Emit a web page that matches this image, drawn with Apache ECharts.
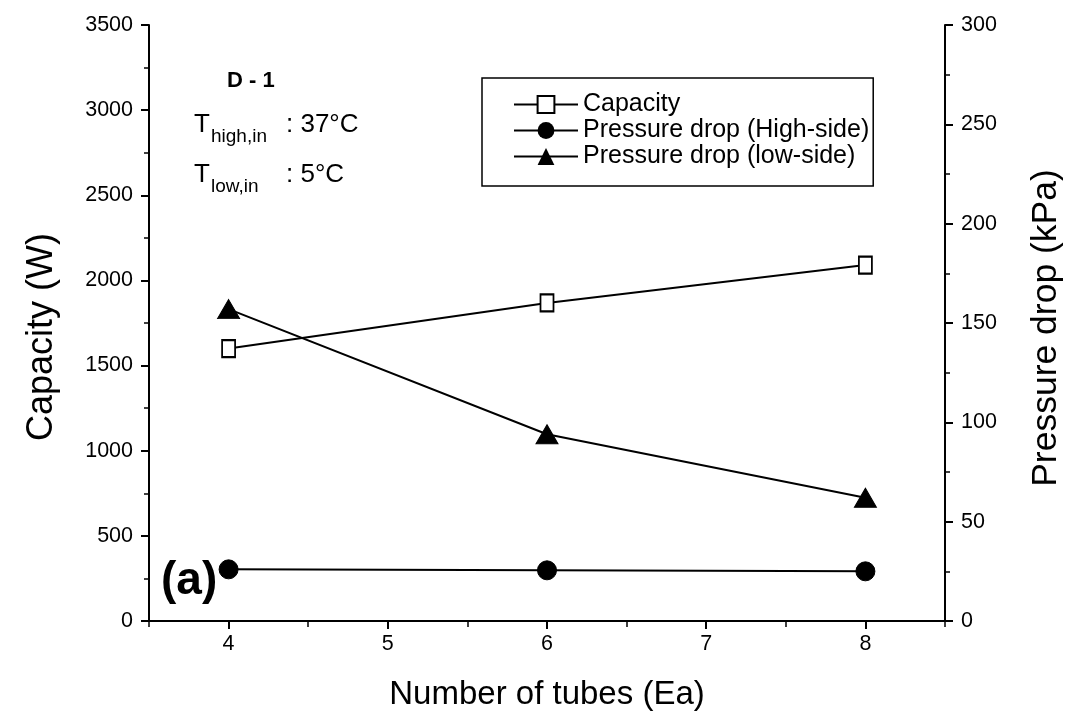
<!DOCTYPE html>
<html>
<head>
<meta charset="utf-8">
<script src="https://cdn.jsdelivr.net/npm/echarts@6/dist/echarts.min.js"></script>
<style>
  html, body { margin: 0; padding: 0; background: #fff; }
  #main { width: 1069px; height: 720px; }
</style>
</head>
<body>
<div id="main"></div>
<script>
// data
const tubes = [4, 6, 8];
const capacity = [1600, 1868, 2090];          // W
const dpHigh = [26, 25.5, 25];                 // kPa
const dpLow = [157, 94, 62];                   // kPa

const FONT = "'Liberation Sans', Arial, sans-serif";

let myChart = echarts.init(document.getElementById('main'));

function pairs(ys) {
    return tubes.map((x, i) => [x, ys[i]]);
}
// plain numbers, no thousands separator
function plain(v) {
    return String(v);
}

let option = {
    backgroundColor: '#fff',
    animation: false,
    textStyle: { fontFamily: FONT, color: '#000' },
    grid: { left: 149, right: 124, top: 25, bottom: 99, outerBoundsMode: 'none', containLabel: false },
    legend: {
        orient: 'vertical',
        left: 482,
        top: 78,
        padding: [14, 4, 17, 31],
        itemWidth: 64,
        itemHeight: 21,
        itemGap: 1,
        borderColor: '#000',
        borderWidth: 1.5,
        textStyle: { fontFamily: FONT, fontSize: 25, color: '#000' },
        data: ['Capacity', 'Pressure drop (High-side)', 'Pressure drop (low-side)']
    },
    xAxis: [
        {
            type: 'value',
            position: 'bottom',
            min: 3.5,
            max: 8.5,
            name: 'Number of tubes (Ea)',
            nameLocation: 'middle',
            nameGap: 57,
            nameTextStyle: { fontSize: 33, color: '#000', fontFamily: FONT },
            axisLine: { lineStyle: { color: '#000', width: 2 } },
            axisTick: { inside: false, length: 8, lineStyle: { color: '#000', width: 2 } },
            axisLabel: {
                fontSize: 21.5, color: '#000', margin: 12, fontFamily: FONT,
                showMinLabel: false, showMaxLabel: false, formatter: plain
            },
            splitLine: { show: false }
        },
        {
            // top frame, inward ticks
            type: 'value',
            position: 'top',
            min: 3.5,
            max: 8.5,
            interval: 0.5,
            axisLine: { lineStyle: { color: '#000', width: 2 } },
            axisTick: { inside: true, length: 6, lineStyle: { color: '#000', width: 1.5 } },
            axisLabel: { show: false },
            splitLine: { show: false }
        },
        {
            // half-unit minor ticks on bottom
            type: 'value',
            position: 'bottom',
            min: 3.5,
            max: 8.5,
            interval: 0.5,
            axisLine: { show: false },
            axisTick: { inside: false, length: 5, lineStyle: { color: '#000', width: 1.5 } },
            axisLabel: { show: false },
            splitLine: { show: false }
        }
    ],
    yAxis: [
        {
            type: 'value',
            position: 'left',
            min: 0,
            max: 3500,
            interval: 500,
            name: 'Capacity (W)',
            nameLocation: 'middle',
            nameRotate: 90,
            nameGap: 89,
            nameTextStyle: { fontSize: 36, color: '#000', fontFamily: FONT, padding: [0, 28, 0, 0] },
            axisLine: { show: true, lineStyle: { color: '#000', width: 2 } },
            axisTick: { show: true, inside: false, length: 8, lineStyle: { color: '#000', width: 2 } },
            minorTick: { show: true, splitNumber: 2, length: 5, lineStyle: { color: '#000', width: 1.5 } },
            axisLabel: { fontSize: 21.5, color: '#000', margin: 16, fontFamily: FONT, formatter: plain },
            splitLine: { show: false }
        },
        {
            type: 'value',
            position: 'right',
            min: 0,
            max: 300,
            interval: 50,
            name: 'Pressure drop (kPa)',
            nameLocation: 'middle',
            nameRotate: 90,
            nameGap: 83,
            nameTextStyle: { fontSize: 35.5, color: '#000', fontFamily: FONT, padding: [0, 10, 0, 0] },
            axisLine: { show: true, lineStyle: { color: '#000', width: 2 } },
            axisTick: { show: true, inside: false, length: 8, lineStyle: { color: '#000', width: 2 } },
            minorTick: { show: true, splitNumber: 2, length: 5, lineStyle: { color: '#000', width: 1.5 } },
            axisLabel: { fontSize: 21.5, color: '#000', margin: 16, fontFamily: FONT, formatter: plain },
            splitLine: { show: false }
        }
    ],
    series: [
        {
            name: 'Capacity',
            type: 'line',
            xAxisIndex: 0,
            yAxisIndex: 0,
            data: pairs(capacity),
            symbol: 'rect',
            symbolSize: [13, 17],
            lineStyle: { color: '#000', width: 2 },
            itemStyle: { color: '#fff', borderColor: '#000', borderWidth: 2 }
        },
        {
            name: 'Pressure drop (High-side)',
            type: 'line',
            xAxisIndex: 0,
            yAxisIndex: 1,
            data: pairs(dpHigh),
            symbol: 'circle',
            symbolSize: 19,
            lineStyle: { color: '#000', width: 2 },
            itemStyle: { color: '#000', borderColor: '#000' }
        },
        {
            name: 'Pressure drop (low-side)',
            type: 'line',
            xAxisIndex: 0,
            yAxisIndex: 1,
            data: pairs(dpLow),
            symbol: 'triangle',
            symbolSize: [22, 19],
            lineStyle: { color: '#000', width: 2 },
            itemStyle: { color: '#000', borderColor: '#000' }
        }
    ],
    graphic: [
        { type: 'text', left: 227, top: 70, style: { text: 'D - 1', font: 'bold 22px ' + FONT, fill: '#000' } },
        { type: 'text', left: 194, top: 112, style: { text: 'T', font: '26px ' + FONT, fill: '#000' } },
        { type: 'text', left: 211, top: 127, style: { text: 'high,in', font: '19px ' + FONT, fill: '#000' } },
        { type: 'text', left: 286, top: 112, style: { text: ': 37°C', font: '26px ' + FONT, fill: '#000' } },
        { type: 'text', left: 194, top: 162, style: { text: 'T', font: '26px ' + FONT, fill: '#000' } },
        { type: 'text', left: 211, top: 177, style: { text: 'low,in', font: '19px ' + FONT, fill: '#000' } },
        { type: 'text', left: 286, top: 162, style: { text: ': 5°C', font: '26px ' + FONT, fill: '#000' } },
        { type: 'text', left: 161, top: 558, style: { text: '(a)', font: 'bold 46px ' + FONT, fill: '#000' } }
    ]
};
myChart.setOption(option);
</script>
</body>
</html>
